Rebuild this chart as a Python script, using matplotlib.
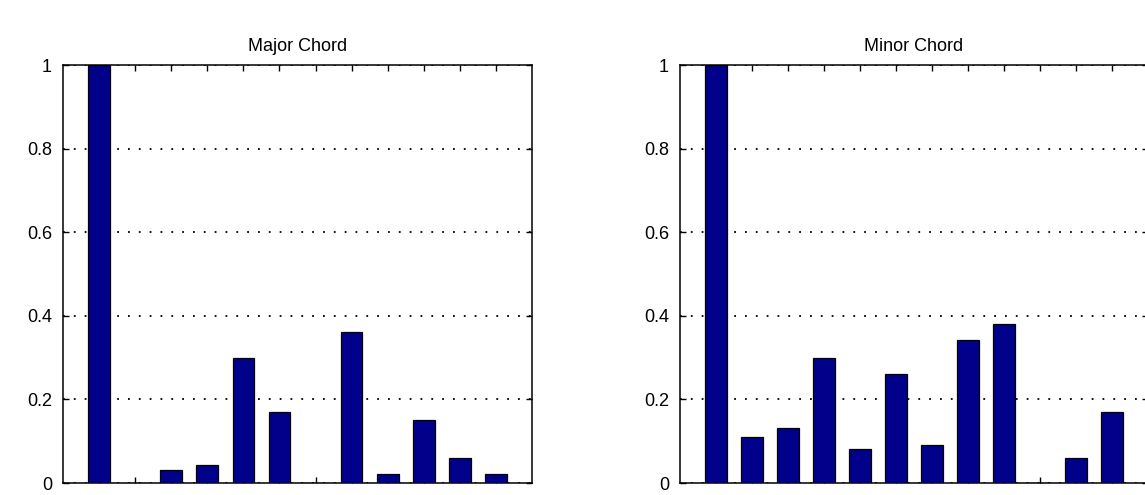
import matplotlib.pyplot as plt
import numpy as np

# chroma profiles of the two chord templates (12 pitch classes)
pitch_classes = np.arange(1, 13)
major_chord = [1.0, 0.0, 0.030, 0.042, 0.30, 0.171, 0.0, 0.361, 0.021, 0.150, 0.061, 0.021]
minor_chord = [1.0, 0.110, 0.131, 0.30, 0.081, 0.261, 0.090, 0.341, 0.381, 0.0, 0.061, 0.171]
titles = ['Major Chord', 'Minor Chord']
yticks = [0, 0.2, 0.4, 0.6, 0.8, 1]
ytick_labels = ['0', '0.2', '0.4', '0.6', '0.8', '1']

plt.rcParams['font.family'] = ['Liberation Sans', 'DejaVu Sans']

W, H = 1145, 495
fig = plt.figure(figsize=(W / 100, H / 100), dpi=100)

# axes boxes in pixels: left, bottom, width, height
boxes = [(63, 12, 469, 418), (680, 12, 468, 418)]

for box, title, values in zip(boxes, titles, [major_chord, minor_chord]):
    x0, y0, w, h = box
    ax = fig.add_axes([x0 / W, y0 / H, w / W, h / H])
    ax.bar(pitch_classes, values, width=0.6, color='#00008A',
           edgecolor='black', linewidth=0.9, zorder=3)
    ax.set_xlim(0, 13)
    ax.set_ylim(0, 1)
    ax.set_xticks(pitch_classes)
    ax.set_xticklabels([])
    ax.set_yticks(yticks)
    ax.set_yticklabels(ytick_labels)
    ax.yaxis.grid(True, color='black', linestyle=(0, (1, 5)),
                  linewidth=1.3, zorder=1)
    ax.tick_params(direction='in', length=4.5, width=1.0, top=True,
                   right=True, labelsize=13, pad=8)
    for sp in ax.spines.values():
        sp.set_linewidth(1.1)
    ax.set_title(title, fontsize=13, pad=10)

fig.savefig('out.png', dpi=100)
